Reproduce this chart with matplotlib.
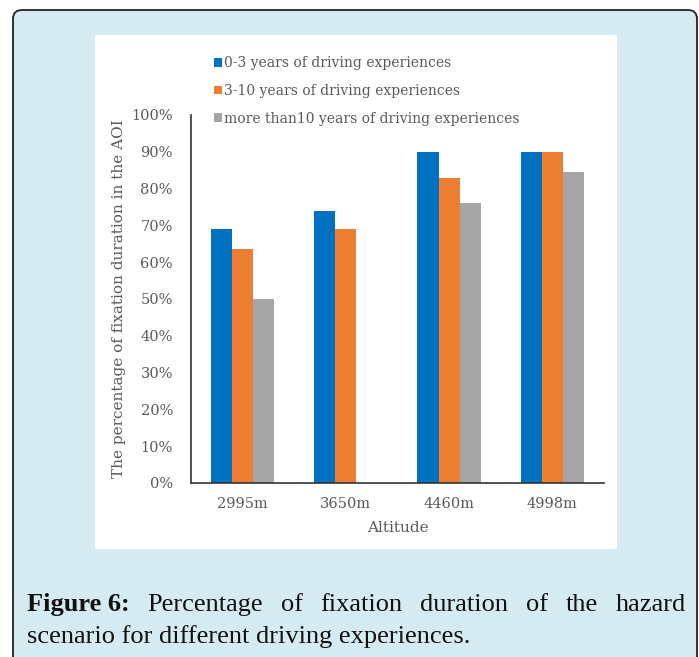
import matplotlib.pyplot as plt
from matplotlib.patches import FancyBboxPatch, Rectangle, Patch
import numpy as np

categories = ['2995m', '3650m', '4460m', '4998m']
series_names = ['0-3 years of driving experiences',
                '3-10 years of driving experiences',
                'more than10 years of driving experiences']
vals_0_3 = [69, 74, 90, 90]
vals_3_10 = [63.5, 69, 83, 90]
vals_10_plus = [50, 0, 76, 84.5]
colors = ['#0070c0', '#ed7d31', '#a5a5a5']

W, H = 699, 657
fig = plt.figure(figsize=(W / 100, H / 100), dpi=100, facecolor='white')

# background layer in pixel coordinates
bg = fig.add_axes([0, 0, 1, 1])
bg.set_xlim(0, W)
bg.set_ylim(H, 0)
bg.set_axis_off()
bg.add_patch(FancyBboxPatch((13, 10), 684, 660, boxstyle='round,pad=0,rounding_size=9',
                            facecolor='#d6ebf1', edgecolor='#222222', linewidth=1.3))
bg.add_patch(Rectangle((95, 35), 522, 514, facecolor='white', edgecolor='none'))

# main chart
ax = fig.add_axes([191 / W, 1 - 483 / H, (604 - 191) / W, (483 - 115) / H])
x = np.arange(len(categories))
bw = 0.205
for i, (vals, c) in enumerate(zip([vals_0_3, vals_3_10, vals_10_plus], colors)):
    ax.bar(x + (i - 1) * bw, np.array(vals) / 100, bw, color=c, label=series_names[i])

ax.set_xlim(-0.5, len(categories) - 0.5)
ax.set_ylim(0, 1.0)
ax.set_yticks(np.arange(0, 1.01, 0.1))
ax.set_yticklabels([f'{int(round(v * 100))}%' for v in np.arange(0, 1.01, 0.1)])
ax.set_xticks(x)
ax.set_xticklabels(categories)
for s in ['top', 'right']:
    ax.spines[s].set_visible(False)
for s in ['left', 'bottom']:
    ax.spines[s].set_color('#333333')
    ax.spines[s].set_linewidth(1.2)
ax.tick_params(axis='y', length=0, colors='#595959', labelsize=10.5, pad=13)
ax.tick_params(axis='x', length=0, colors='#595959', labelsize=10.5, pad=10)
for lab in ax.get_xticklabels() + ax.get_yticklabels():
    lab.set_family('DejaVu Serif')
ax.set_xlabel('Altitude', family='DejaVu Serif', fontsize=11, color='#595959', labelpad=7)
ax.set_ylabel('The percentage of fixation duration in the AOI', family='DejaVu Serif',
              fontsize=11, color='#595959', labelpad=4)

handles = [Patch(facecolor=c, edgecolor='none') for c in colors]
leg = fig.legend(handles, series_names, loc='upper left', bbox_to_anchor=(214 / W, 1 - 56 / H),
                 frameon=False, prop={'family': 'DejaVu Serif', 'size': 10},
                 handlelength=0.55, handleheight=0.6, handletextpad=0.2, labelspacing=1.0,
                 borderpad=0, borderaxespad=0)
for t in leg.get_texts():
    t.set_color('#595959')

# caption, first line justified
fig.canvas.draw()
r = fig.canvas.get_renderer()
cap_font = dict(family='Liberation Serif', fontsize=19, color='#111111')
words = [('Figure 6:', 'bold'), ('Percentage', 'normal'), ('of', 'normal'), ('fixation', 'normal'),
         ('duration', 'normal'), ('of', 'normal'), ('the', 'normal'), ('hazard', 'normal')]
left, right, y1 = 27, 686, 605
texts = []
for w, wt in words:
    t = bg.text(0, y1, w, weight=wt, va='center', ha='left', **cap_font)
    texts.append(t)
widths = []
inv = bg.transData.inverted()
for t in texts:
    bb = t.get_window_extent(r)
    p0 = inv.transform((bb.x0, bb.y0))
    p1 = inv.transform((bb.x1, bb.y0))
    widths.append(p1[0] - p0[0])
gap = (right - left - sum(widths)) / (len(words) - 1)
xpos = left
for t, wd in zip(texts, widths):
    t.set_x(xpos)
    xpos += wd + gap
bg.text(left, 637, 'scenario for different driving experiences.', va='center', ha='left', **cap_font)

fig.savefig('out.png', dpi=100, facecolor='white')
